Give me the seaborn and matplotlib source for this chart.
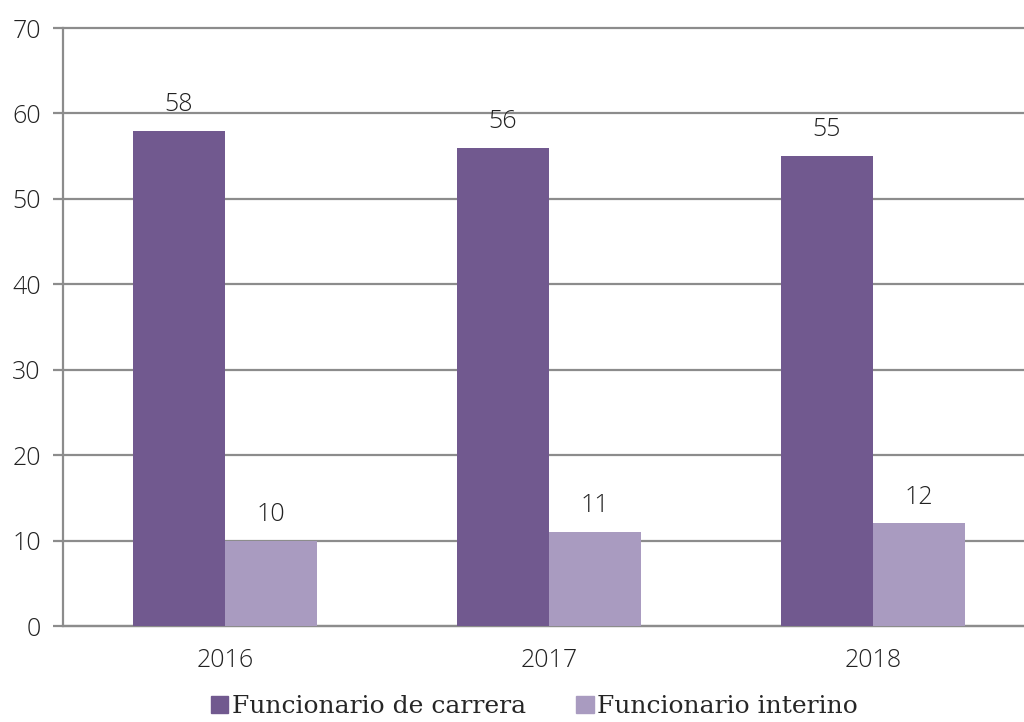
import pandas as pd
import matplotlib.pyplot as plt
import seaborn as sns
from matplotlib.ticker import FixedLocator

years = ['2016', '2017', '2018']
carrera = [58, 56, 55]
interino = [10, 11, 12]
series_names = ['Funcionario de carrera', 'Funcionario interino']
colors = ['#71598f', '#a99bc0']

df = pd.DataFrame({
    'year': years * 2,
    'value': carrera + interino,
    'tipo': [series_names[0]] * 3 + [series_names[1]] * 3,
})

sns.set_style('white')
plt.rcParams['font.family'] = ['Open Sans', 'DejaVu Sans']
plt.rcParams['font.weight'] = 'light'

fig = plt.figure(figsize=(10.24, 7.22), dpi=100)
ax = fig.add_axes([63 / 1024, 96 / 722, 972 / 1024, 598 / 722])

sns.barplot(data=df, x='year', y='value', hue='tipo', palette=colors,
            width=0.57, saturation=1, linewidth=0, ax=ax, zorder=3)

for cont in ax.containers:
    ax.bar_label(cont, padding=10, fontsize=18, color='#222222')

ax.set_ylim(0, 70)
ax.set_xlim(-0.5, 2.5)
ax.set_yticks(range(0, 71, 10))
ax.yaxis.grid(True, color='#8c8c8c', linewidth=1.6, zorder=0)
for gl in ax.get_ygridlines():
    gl.set_clip_on(False)
ax.set_axisbelow(True)
ax.set_xlabel('')
ax.set_ylabel('')

# tick marks at category boundaries
ax.xaxis.set_minor_locator(FixedLocator([-0.5, 0.5, 1.5, 2.5]))
ax.tick_params(axis='x', which='major', length=0, labelsize=18, pad=16, colors='#222222')
ax.tick_params(axis='x', which='minor', length=8, width=1.6, color='#8c8c8c', direction='out')
ax.tick_params(axis='y', which='major', length=7, width=1.6, color='#8c8c8c', labelsize=18,
               labelcolor='#222222', pad=9, left=True)

for side in ['top', 'right']:
    ax.spines[side].set_visible(False)
for side in ['left', 'bottom']:
    ax.spines[side].set_color('#8c8c8c')
    ax.spines[side].set_linewidth(1.6)

ax.legend_.remove()
handles = [plt.Rectangle((0, 0), 1, 1, color=c) for c in colors]
fig.legend(handles, series_names, loc='lower center', bbox_to_anchor=(0.522, -0.026), ncol=2,
           frameon=False, prop={'family': 'DejaVu Serif', 'size': 18},
           handlelength=0.7, handleheight=0.7, handletextpad=0.15, columnspacing=2.0)

fig.savefig('out.png', dpi=100)
